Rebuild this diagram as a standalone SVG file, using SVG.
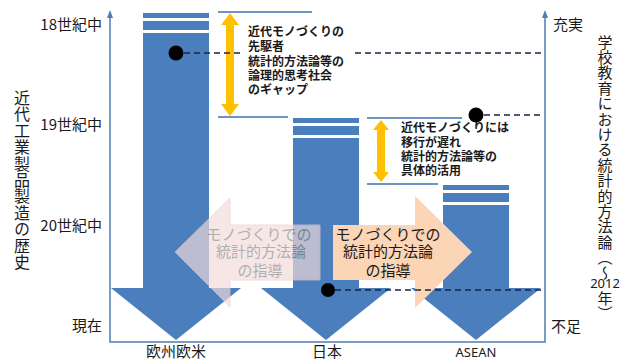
<svg xmlns="http://www.w3.org/2000/svg" width="630" height="362" viewBox="0 0 630 362">
<style>
.jp{font-family:"Noto Sans CJK JP","Noto Sans",sans-serif;fill:#1a1a1a}
.lbl{font-size:15px}
.gap{font-size:12px;font-weight:bold}
.col{fill:#4a7ebd}
.gline{stroke:#6d95c4;stroke-width:2;fill:none}
.axis{stroke:#4f7fb0;stroke-width:1.5;fill:none}
.dash{stroke:#1a2440;stroke-width:1.6;stroke-dasharray:6 4;fill:none}
.yel{fill:#ffc000}
.lat{font-family:"Noto Sans","Liberation Sans",sans-serif}
.vt{writing-mode:vertical-rl;text-orientation:mixed}
</style>
<rect width="630" height="362" fill="#ffffff"/>

<g id="axes">
<path class="axis" d="M110,16 V342 H545 V16"/>
<polygon points="110,10 107,18 113,18" fill="#4f7fb0"/>
<polygon points="545,10 542,18 548,18" fill="#4f7fb0"/>
</g>

<g id="left-labels" class="jp lbl">
<text x="102" y="30" text-anchor="end">18世紀中</text>
<text x="102" y="130" text-anchor="end">19世紀中</text>
<text x="102" y="231" text-anchor="end">20世紀中</text>
<text x="102" y="331" text-anchor="end">現在</text>
</g>

<g id="left-title">
<text class="jp vt" x="22" y="90" font-size="16" letter-spacing="0.4">近代工業製品製造の歴史</text>
</g>

<g id="right-labels" class="jp lbl">
<text x="553" y="30">充実</text>
<text x="551" y="332">不足</text>
</g>

<g id="right-title">
<text class="jp vt" x="605" y="34.5" font-size="15" letter-spacing="0.4">学校教育における統計的方法論（～</text>
<text class="jp lat" x="605" y="288" font-size="13" text-anchor="middle">2012</text>
<text class="jp vt" x="605" y="291" font-size="15">年）</text>
</g>

<g id="col-europe">
<rect class="col" x="143" y="13" width="66" height="5"/>
<rect class="col" x="143" y="21" width="66" height="9"/>
<path class="col" d="M143,33 H209 V288 H241 L176,340 L111,288 H143 Z"/>
</g>

<g id="col-japan">
<rect class="col" x="293" y="118" width="66" height="5"/>
<rect class="col" x="293" y="126" width="66" height="9"/>
<path class="col" d="M293,138 H359 V288 H391 L326,340 L261,288 H293 Z"/>
</g>

<g id="col-asean">
<rect class="col" x="443" y="185" width="66" height="5"/>
<rect class="col" x="443" y="193" width="66" height="9"/>
<path class="col" d="M443,205 H509 V288 H541 L476,340 L411,288 H443 Z"/>
</g>

<g id="gap-europe">
<line class="gline" x1="218" y1="12" x2="312" y2="12"/>
<line class="gline" x1="218" y1="117" x2="288" y2="117"/>
<polygon class="yel" points="230,13 239,25 234,25 234,104 239,104 230,116 221,104 226,104 226,25 221,25"/>
<text class="jp gap"><tspan x="248" y="36">近代モノづくりの</tspan><tspan x="248" y="51">先駆者</tspan><tspan x="248" y="66">統計的方法論等の</tspan><tspan x="248" y="80">論理的思考社会</tspan><tspan x="248" y="94">のギャップ</tspan></text>
</g>

<g id="gap-japan">
<line class="gline" x1="367" y1="118" x2="462" y2="118"/>
<line class="gline" x1="367" y1="184" x2="438" y2="184"/>
<polygon class="yel" points="381,120 389,130 385,130 385,172 389,172 381,182 373,172 377,172 377,130 373,130"/>
<text class="jp gap"><tspan x="401" y="132">近代モノづくりには</tspan><tspan x="401" y="147">移行が遅れ</tspan><tspan x="401" y="161">統計的方法論等の</tspan><tspan x="401" y="175">具体的活用</tspan></text>
</g>

<g id="arrow-faded" opacity="0.68">
<polygon points="320,225 230,225 230,198 175,252 230,307 230,280 320,280" fill="#f2dcdb" stroke="#e6cfcf" stroke-width="1"/>
<text class="jp" font-size="15" text-anchor="middle" style="fill:#8a8a8a"><tspan x="259" y="240">モノづくりでの</tspan><tspan x="261" y="257">統計的方法論</tspan><tspan x="260" y="276">の指導</tspan></text>
</g>

<g id="arrow-orange">
<polygon points="333,225 415,225 415,196 472,252 415,308 415,280 333,280" fill="#fbd5b5"/>
<text class="jp" font-size="15" text-anchor="middle"><tspan x="388" y="240">モノづくりでの</tspan><tspan x="388" y="257">統計的方法論</tspan><tspan x="388" y="276">の指導</tspan></text>
</g>

<g id="connectors">
<line class="dash" x1="184" y1="53" x2="240" y2="53"/>
<line class="dash" x1="355" y1="53" x2="545" y2="53"/>
<line class="dash" x1="484" y1="115" x2="543" y2="115"/>
<line class="dash" x1="335" y1="290" x2="542" y2="290"/>
</g>

<g id="dots">
<circle cx="176" cy="53" r="7.5" fill="#000"/>
<circle cx="476" cy="115" r="7.5" fill="#000"/>
<circle cx="328" cy="290" r="7" fill="#000"/>
</g>

<g id="bottom-labels" class="jp" text-anchor="middle">
<text x="176" y="357" font-size="15">欧州欧米</text>
<text x="327" y="357" font-size="15">日本</text>
<text class="lat" x="476" y="357" font-size="13">ASEAN</text>
</g>
</svg>
